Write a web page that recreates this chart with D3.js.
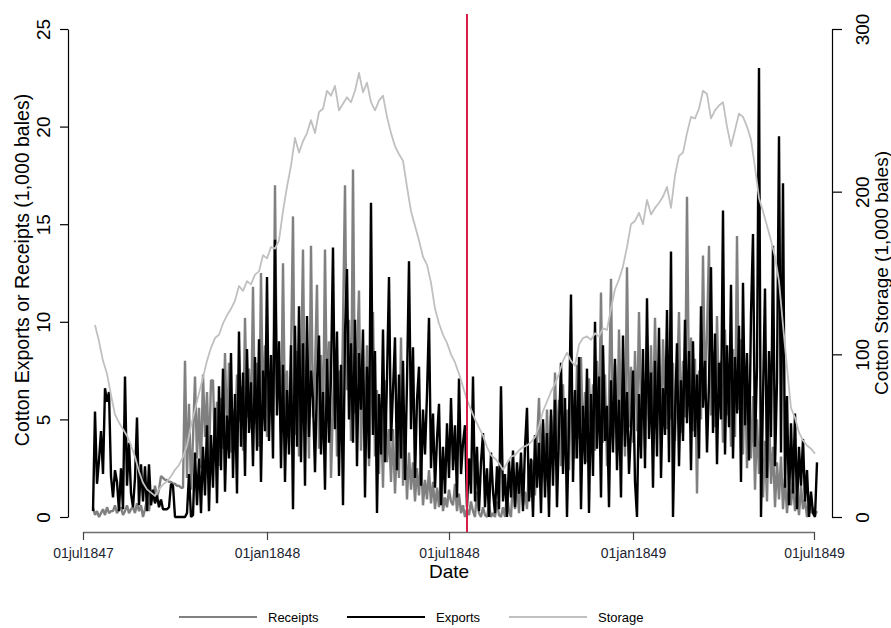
<!DOCTYPE html>
<html>
<head>
<meta charset="utf-8">
<script src="https://cdn.jsdelivr.net/npm/d3@7"></script>
<style>
  body { margin: 0; background: #fff; }
  svg { display: block; }
  text { font-family: "Liberation Sans", Arial, sans-serif; }
</style>
</head>
<body>
<svg id="chart" width="891" height="628"></svg>
<script>
// ---- data -------------------------------------------------------------
const tickDates  = ["1847-07-01", "1848-01-01", "1848-07-01", "1849-01-01", "1849-07-01"];
const tickLabels = ["01jul1847", "01jan1848", "01jul1848", "01jan1849", "01jul1849"];
const leftTicks  = [0, 5, 10, 15, 20, 25];
const rightTicks = [0, 100, 200, 300];
const seriesNames = ["Receipts", "Exports", "Storage"];
const eventDate = "1848-07-19";

// daily flows (1,000 bales), one reading every second day
const flowStart = "1847-07-11";
const flowStepDays = 2;

const receipts = [
  0.5, 0.1, 0.3, 0.0, 0.2, 0.4, 0.1, 0.5, 0.2, 0.3,
  0.3, 0.6, 0.2, 0.4, 0.5, 0.1, 0.3, 0.6, 0.2, 0.4,
  0.5, 0.2, 0.7, 0.3, 0.6, 0.0, 0.4, 0.9, 0.3, 1.2,
  0.8, 1.6, 1.0, 1.4, 2.1, 2.0, 1.9, 1.9, 1.8, 1.8,
  1.7, 1.7, 1.6, 1.6, 1.5, 1.5, 8.0, 2.0, 5.8, 1.4,
  4.0, 7.2, 3.0, 5.6, 2.5, 7.3, 4.1, 6.4, 2.8, 7.0,
  7.0, 3.2, 5.9, 2.6, 6.1, 3.5, 8.4, 4.0, 7.9, 3.3,
  5.5, 3.8, 7.3, 4.9, 6.7, 3.4, 10.2, 5.1, 7.6, 4.5,
  11.8, 4.8, 7.9, 3.6, 12.5, 5.2, 8.8, 4.1, 7.3, 5.5,
  5.0, 17.0, 6.1, 8.0, 4.4, 13.0, 5.0, 7.5, 3.7, 8.2,
  15.4, 4.2, 8.5, 3.1, 7.2, 13.7, 4.5, 8.0, 3.0, 13.9,
  5.1, 7.5, 11.9, 3.5, 8.3, 4.0, 13.7, 5.6, 9.0, 2.0,
  5.8, 8.6, 3.1, 7.5, 4.0, 9.8, 17.0, 6.5, 10.1, 3.9,
  17.8, 5.3, 8.2, 11.6, 3.4, 7.0, 4.6, 8.8, 2.6, 6.2,
  10.5, 3.1, 6.5, 2.2, 5.8, 1.5, 7.0, 2.8, 4.5, 1.8,
  4.5, 1.2, 3.8, 2.0, 9.2, 1.6, 4.1, 0.9, 3.3, 1.4,
  2.8, 0.8, 2.5, 1.1, 3.0, 0.6, 1.9, 0.9, 2.4, 0.7,
  1.8, 0.4, 1.5, 0.5, 2.2, 0.3, 1.0, 0.5, 1.4, 0.8,
  0.6, 1.7, 0.3, 1.2, 0.2, 0.6, 0.0, 0.4, 0.1, 0.8,
  0.3, 0.0, 1.3, 0.2, 0.0, 0.5, 0.1, 0.0, 0.6, 0.0,
  0.2, 0.0, 0.8, 0.1, 0.0, 0.5, 0.0, 1.2, 0.3, 0.0,
  2.0, 0.4, 1.8, 0.2, 2.5, 0.6, 1.3, 0.4, 2.6, 1.0,
  2.9, 1.1, 3.8, 6.1, 2.4, 4.8, 1.8, 5.5, 2.1, 5.2,
  3.0, 7.4, 3.5, 6.0, 2.6, 6.8, 3.2, 5.5, 2.4, 7.0,
  5.6, 3.0, 7.8, 4.0, 8.2, 3.6, 6.4, 2.8, 7.1, 4.2,
  6.8, 3.4, 8.0, 4.5, 11.5, 3.8, 7.3, 2.6, 5.9, 12.2,
  4.0, 7.8, 3.2, 9.6, 4.8, 6.9, 3.1, 12.8, 4.6, 7.7,
  3.8, 8.5, 4.4, 10.5, 5.3, 7.0, 3.5, 9.3, 5.0, 8.8,
  4.6, 10.2, 5.4, 7.8, 4.0, 9.1, 6.2, 4.5, 8.3, 5.0,
  7.9, 3.9, 6.8, 10.5, 4.3, 8.0, 5.1, 16.4, 6.0, 9.2,
  4.4, 8.1, 1.2, 7.5, 5.0, 13.4, 6.3, 9.4, 13.9, 5.2,
  8.5, 4.6, 10.3, 5.7, 8.0, 3.8, 9.6, 5.2, 7.4, 3.6,
  8.6, 4.1, 14.4, 5.5, 9.1, 3.2, 7.6, 2.5, 6.3, 3.0,
  6.2, 1.4, 5.0, 2.2, 4.6, 1.0, 3.9, 0.8, 5.4, 1.7,
  3.6, 0.5, 2.8, 0.9, 3.1, 0.4, 2.0, 0.2, 1.5, 0.6,
  1.8, 0.3, 1.2, 0.1, 1.6, 0.4, 0.9, 0.0, 0.7, 0.2,
  0.5, 0.1, 0.3
];

const exportsSeries = [
  0.3, 5.4, 1.7, 2.9, 4.4, 2.2, 6.6, 5.9, 6.4, 2.1,
  1.0, 2.4, 1.8, 0.3, 2.5, 0.4, 7.2, 1.6, 3.8, 1.2,
  0.5, 2.0, 5.1, 0.6, 2.7, 0.8, 2.6, 0.3, 2.7, 0.6,
  1.4, 0.7, 1.1, 0.5, 0.9, 0.4, 0.4, 0.4, 0.5, 1.7,
  1.6, 0.0, 0.0, 0.0, 0.0, 0.0, 0.0, 0.2, 2.2, 0.0,
  0.1, 3.3, 0.6, 3.0, 0.2, 3.6, 1.1, 4.7, 0.3, 4.2,
  1.5, 5.6, 0.7, 6.7, 2.4, 7.6, 1.3, 5.2, 3.0, 8.4,
  2.0, 6.3, 1.2, 9.5, 3.6, 7.4, 2.1, 8.6, 4.3, 6.9,
  2.6, 8.2, 3.4, 9.1, 1.8, 7.5, 4.4, 12.3, 3.9, 8.3,
  3.0, 14.2, 5.2, 9.0, 2.5, 7.8, 1.8, 6.5, 3.2, 8.8,
  0.4, 9.8, 3.6, 10.8, 2.8, 8.9, 1.6, 10.3, 4.1, 7.5,
  6.0, 2.3, 7.0, 9.3, 3.2, 6.4, 1.4, 8.1, 3.8, 7.2,
  13.8, 4.5, 9.5, 2.1, 7.8, 0.6, 9.4, 12.7, 5.0, 8.9,
  3.8, 10.1, 2.6, 8.4, 5.5, 9.6, 1.0, 7.7, 3.0, 16.1,
  4.2, 8.5, 0.2, 6.3, 3.2, 9.6, 2.8, 7.1, 12.3, 3.9,
  6.5, 9.2, 2.4, 7.3, 3.0, 8.0, 1.9, 6.9, 13.1, 4.5,
  8.7, 2.0, 6.0, 7.7, 1.6, 5.5, 3.2, 6.3, 10.2, 2.5,
  5.3, 1.5, 4.0, 5.8, 0.6, 3.6, 1.2, 4.8, 2.0, 6.1,
  2.4, 4.7, 1.0, 7.1, 2.2, 3.8, 4.7, 0.5, 3.0, 1.2,
  7.2, 0.8, 3.6, 0.3, 2.8, 4.3, 0.5, 2.5, 0.0, 3.3,
  1.3, 0.2, 2.6, 0.4, 6.7, 0.8, 2.2, 0.0, 2.9, 1.0,
  3.4, 0.5, 2.8, 1.2, 3.3, 0.3, 3.6, 5.6, 0.8, 3.0,
  0.0, 4.2, 1.5, 3.8, 0.2, 5.0, 1.0, 4.3, 0.0, 5.5,
  1.6, 6.0, 0.5, 4.5, 7.9, 2.2, 6.1, 0.0, 4.8, 11.4,
  1.8, 6.5, 3.0, 8.2, 0.4, 5.7, 2.7, 7.6, 0.2, 6.3,
  2.1, 10.0, 3.5, 7.2, 1.0, 8.8, 3.9, 5.7, 0.5, 7.0,
  3.3, 8.1, 2.4, 6.0, 1.0, 9.3, 3.6, 6.4, 2.2, 4.5,
  7.5, 1.8, 0.0, 6.3, 3.0, 8.6, 2.5, 11.2, 4.0, 7.4,
  1.5, 8.0, 3.1, 9.7, 2.0, 6.6, 4.2, 10.6, 2.8, 13.6,
  0.0, 5.2, 8.9, 2.6, 7.0, 3.9, 10.1, 4.8, 8.5, 2.4,
  9.0, 4.1, 7.3, 3.0, 10.8, 5.6, 8.0, 3.3, 6.9, 12.8,
  4.3, 9.4, 2.7, 7.9, 5.0, 15.7, 3.2, 8.8, 4.6, 11.9,
  3.0, 8.2, 5.3, 9.8, 1.8, 12.0, 4.7, 8.4, 2.9, 10.4,
  14.5, 3.6, 7.7, 23.0, 0.0, 6.2, 11.7, 2.0, 8.5, 4.1,
  13.9, 2.6, 7.0, 19.5, 3.3, 17.1, 1.5, 6.2, 0.6, 4.8,
  1.2, 5.3, 0.4, 3.6, 1.6, 4.0, 0.8, 2.4, 0.0, 1.3,
  0.2, 0.0, 2.8
];

// stock in storage (1,000 bales), one reading every fourth day
const storageStart = "1847-07-13";
const storageStepDays = 4;
const storage = [
  118, 108, 96, 88, 75, 63, 58, 54, 50, 44,
  37, 28, 21, 17, 15, 13, 17, 20, 22, 25,
  29, 32, 37, 44, 56, 66, 76, 86, 96, 104,
  110, 112, 119, 124, 128, 133, 142, 139, 145, 143,
  149, 151, 161, 159, 166, 165, 170, 188, 203, 216,
  233, 224, 231, 236, 244, 236, 249, 251, 262, 259,
  265, 250, 254, 258, 255, 262, 273, 261, 267, 255,
  250, 256, 259, 246, 236, 228, 223, 219, 203, 188,
  179, 170, 160, 155, 144, 128, 119, 112, 107, 100,
  95, 88, 80, 72, 66, 60, 55, 50, 43, 38,
  36, 33, 29, 33, 37, 38, 41, 43, 44, 46,
  49, 56, 65, 71, 77, 82, 88, 96, 101, 96,
  93, 106, 110, 111, 109, 113, 111, 116, 115, 128,
  140, 146, 154, 166, 180, 182, 187, 180, 195, 186,
  190, 193, 197, 203, 190, 210, 222, 224, 236, 246,
  245, 251, 262, 260, 245, 250, 253, 255, 240, 228,
  238, 248, 246, 240, 232, 215, 196, 188, 179, 170,
  160, 145, 118, 92, 67, 61, 52, 47, 44, 42,
  39
];

// ---- layout -----------------------------------------------------------
const svg = d3.select("#chart");
const parse = d3.utcParse("%Y-%m-%d");

const x = d3.scaleUtc()
  .domain([parse(tickDates[0]), parse(tickDates[tickDates.length - 1])])
  .range([83, 814]);
const yL = d3.scaleLinear().domain([0, 25]).range([517, 29]);
const yR = d3.scaleLinear().domain([0, 300]).range([517, 29]);

const flowDates = receipts.map((_, i) => d3.utcDay.offset(parse(flowStart), i * flowStepDays));
const stockDates = storage.map((_, i) => d3.utcDay.offset(parse(storageStart), i * storageStepDays));

const colors = { Receipts: "#808080", Exports: "#000000", Storage: "#c0c0c0" };

// ---- axes -------------------------------------------------------------
// left axis (flows)
const gL = svg.append("g").attr("transform", "translate(68,0)")
  .call(d3.axisLeft(yL).tickValues(leftTicks).tickSize(8).tickSizeOuter(0));
gL.select(".domain").attr("stroke", "#000").attr("stroke-width", 1.2);
gL.selectAll(".tick line").attr("stroke", "#000").attr("stroke-width", 1.2);
gL.selectAll(".tick text")
  .attr("transform", "rotate(-90)")
  .attr("x", 0).attr("y", -18).attr("dy", 0)
  .attr("text-anchor", "middle")
  .attr("font-size", 19).attr("fill", "#000");

// right axis (storage)
const gR = svg.append("g").attr("transform", "translate(832,0)")
  .call(d3.axisRight(yR).tickValues(rightTicks).tickSize(10).tickSizeOuter(0));
gR.select(".domain").attr("stroke", "#000").attr("stroke-width", 1.2);
gR.selectAll(".tick line").attr("stroke", "#000").attr("stroke-width", 1.2);
gR.selectAll(".tick text")
  .attr("transform", "rotate(-90)")
  .attr("x", 0).attr("y", 37).attr("dy", 0)
  .attr("text-anchor", "middle")
  .attr("font-size", 19).attr("fill", "#000");

// bottom date axis
const gB = svg.append("g").attr("transform", "translate(0,532)")
  .call(d3.axisBottom(x)
    .tickValues(tickDates.map(parse))
    .tickFormat((d, i) => tickLabels[i])
    .tickSize(8).tickSizeOuter(0));
gB.select(".domain").attr("stroke", "#6e6e6e").attr("stroke-width", 1.4);
gB.selectAll(".tick line").attr("stroke", "#444").attr("stroke-width", 1.2);
gB.selectAll(".tick text")
  .attr("y", 26).attr("dy", 0)
  .attr("font-size", 14).attr("fill", "#1c2430");

// axis titles
svg.append("text")
  .attr("transform", "translate(28.5,270) rotate(-90)")
  .attr("text-anchor", "middle").attr("font-size", 19.5).attr("fill", "#000")
  .text("Cotton Exports or Receipts (1,000 bales)");
svg.append("text")
  .attr("transform", "translate(888,273) rotate(-90)")
  .attr("text-anchor", "middle").attr("font-size", 19).attr("fill", "#000")
  .text("Cotton Storage (1,000 bales)");
svg.append("text")
  .attr("x", 449).attr("y", 578)
  .attr("text-anchor", "middle").attr("font-size", 19).attr("fill", "#000")
  .text("Date");

// ---- series -----------------------------------------------------------
const flowLine = values => d3.line()
  .x((d, i) => x(flowDates[i]))
  .y(d => yL(d))(values);

const stockLine = d3.line()
  .x((d, i) => x(stockDates[i]))
  .y(d => yR(d));

svg.append("path")
  .attr("d", flowLine(receipts))
  .attr("fill", "none").attr("stroke", colors.Receipts)
  .attr("stroke-width", 2.4).attr("stroke-linejoin", "bevel");

svg.append("path")
  .attr("d", flowLine(exportsSeries))
  .attr("fill", "none").attr("stroke", colors.Exports)
  .attr("stroke-width", 2.4).attr("stroke-linejoin", "bevel");

svg.append("path")
  .attr("d", stockLine(storage))
  .attr("fill", "none").attr("stroke", colors.Storage)
  .attr("stroke-width", 1.8).attr("stroke-linejoin", "round");

// event marker
svg.append("line")
  .attr("x1", x(parse(eventDate))).attr("x2", x(parse(eventDate)))
  .attr("y1", 14).attr("y2", 532)
  .attr("stroke", "#d81e48").attr("stroke-width", 2);

// ---- legend -----------------------------------------------------------
const legendX = [179, 347, 509];
const legend = svg.append("g").attr("transform", "translate(0,617)");
seriesNames.forEach((name, i) => {
  legend.append("line")
    .attr("x1", legendX[i]).attr("x2", legendX[i] + 78)
    .attr("y1", 0).attr("y2", 0)
    .attr("stroke", colors[name]).attr("stroke-width", 2);
  legend.append("text")
    .attr("x", legendX[i] + 89).attr("y", 5)
    .attr("font-size", 13).attr("fill", "#000")
    .text(name);
});
</script>
</body>
</html>
